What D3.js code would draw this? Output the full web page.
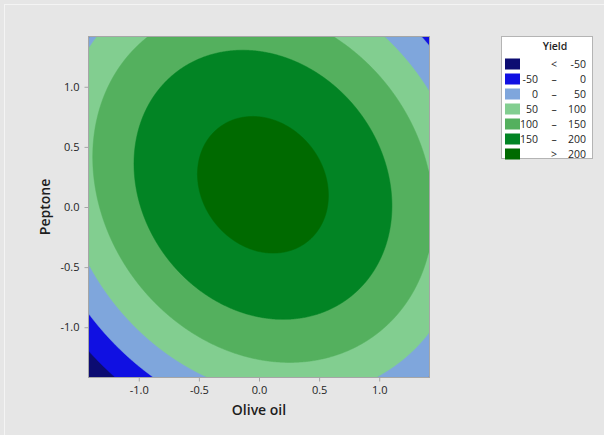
<!DOCTYPE html>
<html>
<head>
<meta charset="utf-8">
<script src="https://cdn.jsdelivr.net/npm/d3@7"></script>
<style>
  html, body { margin: 0; padding: 0; background: #e6e6e6; }
  svg { display: block; }
  text { font-family: "Open Sans", "Noto Sans", sans-serif; fill: #1e1e1e; }
</style>
</head>
<body>
<svg id="chart" width="604" height="435"></svg>
<script>
// Fitted second-order response surface for Yield (coded units)
const factorNames = ["Olive oil", "Peptone"];
const modelTerms = ["Constant", "Olive oil", "Peptone", "Olive oil*Olive oil", "Peptone*Peptone", "Olive oil*Peptone"];
const modelCoefs = [215.3, 7.26, 20.95, -60.0, -55.1, -18.0];

// Axial range of the design (±alpha) and tick values
const codedRange = [-1.414, 1.414];
const xTickValues = [-1.0, -0.5, 0.0, 0.5, 1.0];
const yTickValues = [-1.0, -0.5, 0.0, 0.5, 1.0];

// Contour levels and legend
const levelBreaks = [-50, 0, 50, 100, 150, 200];
const legendLeft = ["", "-50", "0", "50", "100", "150", ""];
const legendMid = ["<", "–", "–", "–", "–", "–", ">"];
const legendRight = ["-50", "0", "50", "100", "150", "200", "200"];
const bandColors = ["#0c0c72", "#1010e2", "#7fa6dc", "#82ce90", "#54b05e", "#028424", "#006a00"];

const svg = d3.select("#chart");
const W = 604, H = 435;
const plot = { left: 89, top: 37, right: 429, bottom: 377 };

// outer frame
svg.append("rect").attr("x", 4.5).attr("y", 4.5).attr("width", W).attr("height", H)
  .attr("fill", "#e6e6e6").attr("stroke", "#f4f4f4").attr("stroke-width", 1);

const x = d3.scaleLinear().domain(codedRange).range([plot.left, plot.right]);
const y = d3.scaleLinear().domain(codedRange).range([plot.bottom, plot.top]);

function yieldAt(a, b) {
  const c = modelCoefs;
  return c[0] + c[1] * a + c[2] * b + c[3] * a * a + c[4] * b * b + c[5] * a * b;
}

// sample the surface on a fine grid over the coded region
const n = 340, m = 340;
const dx = (codedRange[1] - codedRange[0]) / n;
const dy = (codedRange[1] - codedRange[0]) / m;
const grid = new Float64Array(n * m);
for (let j = 0; j < m; j++) {
  const b = codedRange[1] - (j + 0.5) * dy;
  for (let i = 0; i < n; i++) {
    const a = codedRange[0] + (i + 0.5) * dx;
    grid[j * n + i] = yieldAt(a, b);
  }
}

const contours = d3.contours().size([n, m]).smooth(true).thresholds(levelBreaks)(grid);

const gridToPx = d3.geoTransform({
  point: function (gi, gj) {
    this.stream.point(x(codedRange[0] + gi * dx), y(codedRange[1] - gj * dy));
  }
});
const path = d3.geoPath(gridToPx);

svg.append("clipPath").attr("id", "plotClip")
  .append("rect").attr("x", plot.left).attr("y", plot.top)
  .attr("width", plot.right - plot.left).attr("height", plot.bottom - plot.top);

const g = svg.append("g").attr("clip-path", "url(#plotClip)");
g.append("rect").attr("x", plot.left).attr("y", plot.top)
  .attr("width", plot.right - plot.left).attr("height", plot.bottom - plot.top)
  .attr("fill", bandColors[0]);
g.selectAll("path.band").data(contours).join("path")
  .attr("class", "band")
  .attr("d", path)
  .attr("fill", (d, i) => bandColors[i + 1])
  .attr("stroke", (d, i) => bandColors[i + 1])
  .attr("stroke-width", 0.5);

// plot frame
svg.append("rect").attr("x", plot.left - 0.5).attr("y", plot.top - 0.5)
  .attr("width", plot.right - plot.left + 1).attr("height", plot.bottom - plot.top + 1)
  .attr("fill", "none").attr("stroke", "#a6a6a6");

// axes (tick labels use a plain hyphen for negatives)
const fmt = v => d3.format(".1f")(v).replace("\u2212", "-");
const xAxis = svg.append("g").attr("transform", `translate(0,${plot.bottom + 0.5})`)
  .call(d3.axisBottom(x).tickValues(xTickValues).tickFormat(fmt).tickSizeOuter(0).tickSizeInner(4).tickPadding(5));
const yAxis = svg.append("g").attr("transform", `translate(${plot.left - 0.5},0)`)
  .call(d3.axisLeft(y).tickValues(yTickValues).tickFormat(fmt).tickSizeOuter(0).tickSizeInner(4).tickPadding(5));
[xAxis, yAxis].forEach(ax => {
  ax.select(".domain").remove();
  ax.selectAll(".tick line").attr("stroke", "#a6a6a6");
  ax.selectAll(".tick text").attr("font-size", 11).attr("fill", "#1e1e1e")
    .style("font-family", "'Open Sans', 'Noto Sans', sans-serif");
});

svg.append("text").attr("x", (plot.left + plot.right) / 2).attr("y", 415)
  .attr("text-anchor", "middle").attr("font-size", 14).attr("font-weight", 600)
  .text(factorNames[0]);
svg.append("text")
  .attr("transform", `translate(50,${(plot.top + plot.bottom) / 2}) rotate(-90)`)
  .attr("text-anchor", "middle").attr("font-size", 14).attr("font-weight", 600)
  .text(factorNames[1]);

// legend
const lg = svg.append("g");
lg.append("rect").attr("x", 501.5).attr("y", 36.5).attr("width", 91).attr("height", 122)
  .attr("fill", "#ffffff").attr("stroke", "#b4b4b4");
lg.append("text").attr("x", 555).attr("y", 50).attr("text-anchor", "middle")
  .attr("font-size", 10.5).attr("font-weight", 600).text("Yield");
const rows = lg.selectAll("g.row").data(bandColors).join("g").attr("class", "row")
  .attr("transform", (d, i) => `translate(0,${64 + i * 15})`);
rows.append("rect").attr("x", 505).attr("y", -5.5).attr("width", 15).attr("height", 11)
  .attr("fill", d => d);
rows.append("text").attr("x", 538).attr("y", 3.5).attr("text-anchor", "end")
  .attr("font-size", 10.5).text((d, i) => legendLeft[i]);
rows.append("text").attr("x", 554).attr("y", 3.5).attr("text-anchor", "middle")
  .attr("font-size", 10.5).text((d, i) => legendMid[i]);
rows.append("text").attr("x", 586).attr("y", 3.5).attr("text-anchor", "end")
  .attr("font-size", 10.5).text((d, i) => legendRight[i]);
</script>
</body>
</html>
